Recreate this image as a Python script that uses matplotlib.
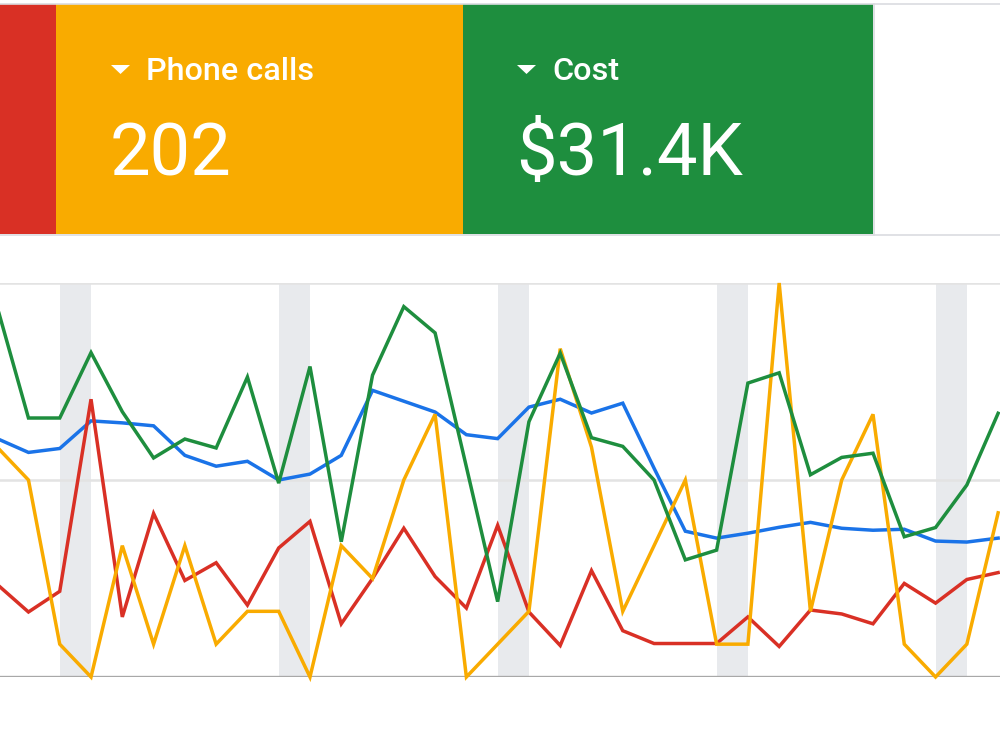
import numpy as np
import matplotlib.pyplot as plt
from matplotlib.patches import Rectangle, Polygon

# daily values (visible part of the date range), each metric on its own scale
days = np.arange(33)
clicks = [242, 228, 232, 260, 258, 255, 225, 214, 219, 200, 206, 225, 291, 280, 269, 246, 242,
          274, 282, 268, 278, 212, 148, 141, 146, 152, 157, 151, 149, 150, 138, 137, 141]
conversions = [9.4, 6.6, 8.7, 28.2, 6.1, 16.6, 9.8, 11.6, 7.3, 13.1, 15.8, 5.4, 10.0, 15.1, 10.2, 7.0, 15.4,
               6.6, 3.2, 10.8, 4.7, 3.4, 3.4, 3.4, 6.1, 3.1, 6.8, 6.4, 5.4, 9.5, 7.5, 9.9, 10.6]
phone_calls = [7, 6, 1, 0, 4, 1, 4, 1, 2, 2, 0, 4, 3, 6, 8, 0, 1,
               2, 10, 7, 2, 4, 6, 1, 1, 12, 2, 6, 8, 1, 0, 1, 5]
cost = [1409, 986, 986, 1235, 1010, 834, 906, 872, 1142, 738, 1182, 515, 1149, 1410, 1310, 800, 287,
        972, 1233, 911, 878, 750, 446, 483, 1119, 1158, 770, 836, 852, 534, 569, 731, 1004]

# axis tops used by each metric
clicks_max, conversions_max, calls_max, cost_max = 400, 40, 12, 1500

card_titles = ['Phone calls', 'Cost']
card_values = ['202', '$31.4K']

RED, YELLOW, GREEN, BLUE = '#d93025', '#f9ab00', '#1e8e3e', '#1a73e8'

fig = plt.figure(figsize=(10, 7.5), dpi=100)

# ---- line chart ----
ax = fig.add_axes([0, 73 / 750, 1, 394 / 750])
ax.set_xlim(0.09, 32.06)
ax.set_ylim(0, 100)
ax.axis('off')

for d in days[:-1]:
    if d % 7 == 2:  # weekend
        ax.axvspan(d, d + 1, color='#e8eaed', lw=0, zorder=0)

ax.axhline(100, color='#e3e3e3', lw=1.8, zorder=1)
ax.axhline(50, color='#e3e3e3', lw=1.8, zorder=1)
ax.axhline(0, color='#a8a8a8', lw=2.4, zorder=1)

series = [(clicks, clicks_max, BLUE), (conversions, conversions_max, RED),
          (phone_calls, calls_max, YELLOW), (cost, cost_max, GREEN)]
for vals, top, col in series:
    ax.plot(days, np.array(vals) / top * 100, color=col, lw=2.5, zorder=3,
            clip_on=False, solid_joinstyle='miter')

# ---- scorecards (pixel coords) ----
top = fig.add_axes([0, 0, 1, 1], zorder=5)
top.set_xlim(0, 1000)
top.set_ylim(750, 0)
top.axis('off')
top.patch.set_alpha(0)

top.add_patch(Rectangle((0, 4), 56, 230, color=RED, lw=0))
top.add_patch(Rectangle((56, 4), 407, 230, color=YELLOW, lw=0))
top.add_patch(Rectangle((463, 4), 410, 230, color=GREEN, lw=0))
top.plot([0, 1000], [3.5, 3.5], color='#dadce0', lw=1.2)
top.plot([0, 1000], [235, 235], color='#dadce0', lw=1.2)
top.plot([873.5, 873.5], [4, 235], color='#dadce0', lw=1.2)

for x0, title, value in [(111, card_titles[0], card_values[0]), (517, card_titles[1], card_values[1])]:
    top.add_patch(Polygon([(x0, 65), (x0 + 19, 65), (x0 + 9.5, 74)], color='white', lw=0))
    top.text(x0 + 35, 80, title, color='white', fontsize=23.3, family='Roboto',
             fontweight='medium', va='baseline', ha='left')
    top.text(x0 - 1, 175, value, color='white', fontsize=52, family='Roboto',
             va='baseline', ha='left')

fig.savefig('out.png', dpi=100)
